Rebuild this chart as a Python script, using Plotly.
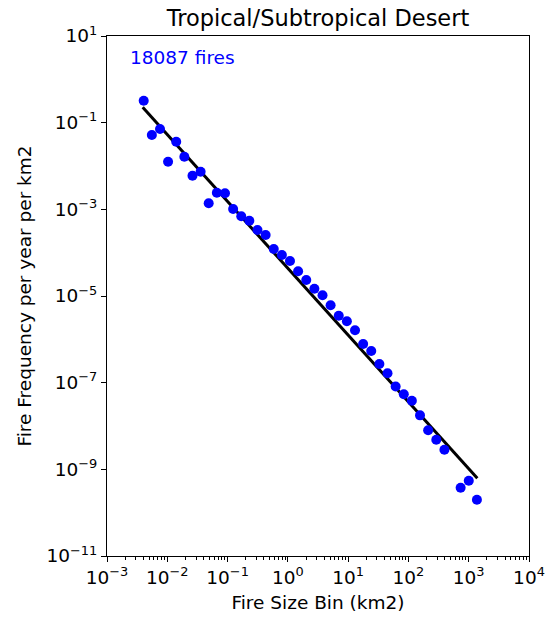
import plotly.graph_objects as go

# Data
bin_log10_size = [-2.391, -2.256, -2.121, -1.987, -1.852, -1.717, -1.582, -1.447, -1.313, -1.178,
                  -1.043, -0.908, -0.773, -0.639, -0.504, -0.369, -0.234, -0.099, 0.035, 0.170,
                  0.305, 0.440, 0.575, 0.709, 0.844, 0.979, 1.114, 1.249, 1.383, 1.518,
                  1.653, 1.788, 1.923, 2.057, 2.192, 2.327, 2.462, 2.597, 2.866, 3.001, 3.136]
freq_log10 = [-0.493, -1.285, -1.146, -1.901, -1.439, -1.786, -2.224, -2.132, -2.861, -2.616,
              -2.630, -2.993, -3.159, -3.263, -3.477, -3.593, -3.916, -4.054, -4.193, -4.430,
              -4.631, -4.832, -4.984, -5.215, -5.455, -5.584, -5.792, -6.108, -6.270, -6.570,
              -6.782, -7.089, -7.269, -7.417, -7.754, -8.100, -8.317, -8.548, -9.424, -9.263, -9.701]
fire_size_bin = [10 ** v for v in bin_log10_size]
fire_frequency = [10 ** v for v in freq_log10]

fit_x = [10 ** -2.408, 10 ** 3.143]
fit_y = [10 ** -0.646, 10 ** -9.208]

n_fires = 18087
title = "Tropical/Subtropical Desert"

x_tickvals = [1e-3, 1e-2, 1e-1, 1e0, 1e1, 1e2, 1e3, 1e4]
x_ticktext = ["10<sup>−3</sup>", "10<sup>−2</sup>", "10<sup>−1</sup>", "10<sup>0</sup>",
              "10<sup>1</sup>", "10<sup>2</sup>", "10<sup>3</sup>", "10<sup>4</sup>"]
y_tickvals = [1e1, 1e-1, 1e-3, 1e-5, 1e-7, 1e-9, 1e-11]
y_ticktext = ["10<sup>1</sup>", "10<sup>−1</sup>", "10<sup>−3</sup>", "10<sup>−5</sup>",
              "10<sup>−7</sup>", "10<sup>−9</sup>", "10<sup>−11</sup>"]

font_family = "DejaVu Sans"
fs = 18.5

fig = go.Figure()
fig.add_trace(go.Scatter(x=fit_x, y=fit_y, mode="lines",
                         line=dict(color="black", width=3), showlegend=False))
fig.add_trace(go.Scatter(x=fire_size_bin, y=fire_frequency, mode="markers",
                         marker=dict(color="#0000ff", size=10, line=dict(width=0)),
                         showlegend=False))

fig.add_annotation(x=0.05, y=0.983, xref="paper", yref="paper", xanchor="left", yanchor="top",
                   text=f"{n_fires} fires", showarrow=False,
                   font=dict(color="#0000ff", size=fs, family=font_family))

axis_common = dict(type="log", showgrid=False, zeroline=False, showline=True,
                   linecolor="black", linewidth=1, mirror=True, ticks="outside",
                   ticklen=5, tickcolor="black", tickwidth=1, automargin=False,
                   tickfont=dict(size=fs, color="black", family=font_family))

fig.update_xaxes(range=[-3, 4], tickvals=x_tickvals, ticktext=x_ticktext,
                 minor=dict(ticks="outside", ticklen=3, tickcolor="black", dtick="D1"),
                 title=dict(text="Fire Size Bin (km2)", font=dict(size=fs, color="black",
                                                                 family=font_family), standoff=8),
                 **axis_common)
fig.update_yaxes(range=[-11, 1], tickvals=y_tickvals, ticktext=y_ticktext,
                 title=dict(text="Fire Frequency per year per km2", font=dict(size=fs, color="black",
                                                                             family=font_family), standoff=9),
                 **axis_common)

fig.update_layout(width=547, height=617,
                  margin=dict(l=106.5, r=17.5, t=36, b=61),
                  paper_bgcolor="white", plot_bgcolor="white",
                  title=dict(text=title, x=318 / 547, xanchor="center",
                             y=1 - 18 / 617, yanchor="middle",
                             font=dict(size=22.5, color="black", family=font_family)),
                  font=dict(family=font_family))

fig.write_html("out.html")
